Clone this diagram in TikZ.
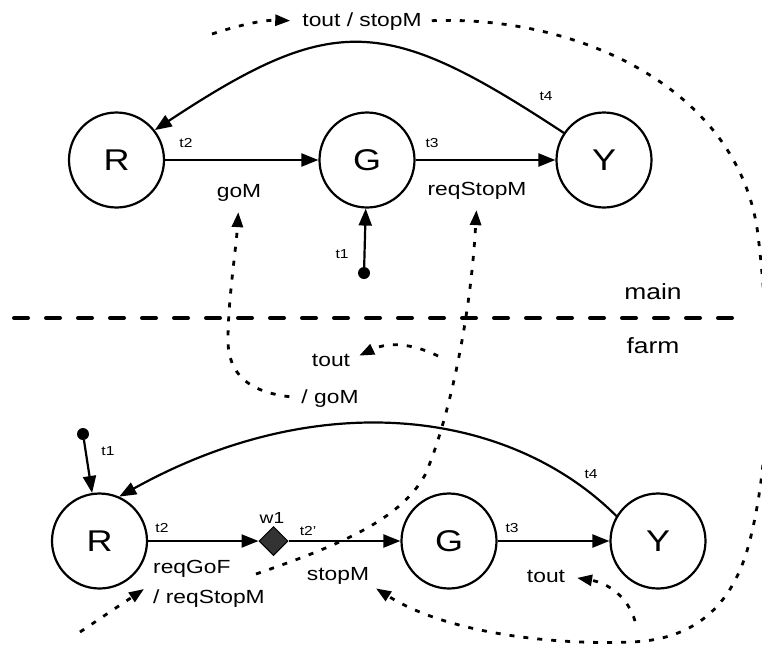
\documentclass[tikz,border=0pt]{standalone}
\usepackage{fontspec}
\setmainfont[FakeStretch=1.2]{Liberation Sans}
\usetikzlibrary{arrows.meta,shapes.geometric}
\tikzset{
  state/.style={circle,draw,line width=2.2pt,minimum size=95pt,inner sep=0pt,font=\fontsize{30}{36}\selectfont},
  initdot/.style={circle,fill,minimum size=12pt,inner sep=0pt},
  waitbox/.style={diamond,draw,fill=black!80,line width=1pt,minimum width=29pt,minimum height=29pt,inner sep=0pt,aspect=1},
  trans/.style={line width=2.2pt,-{Triangle[length=17pt,width=13pt]}},
  signal/.style={line width=2.8pt,dash pattern=on 5pt off 9pt,-{Triangle[length=15pt,width=11pt]}},
  sigline/.style={line width=2.8pt,dash pattern=on 5pt off 9pt},
  separator/.style={line width=4pt,line cap=round,dash pattern=on 14pt off 18pt},
  tlabel/.style={anchor=base,inner sep=0pt,font=\fontsize{13}{15}\selectfont},
  wlabel/.style={anchor=base,inner sep=0pt,font=\fontsize{16}{18}\selectfont},
  evlabel/.style={anchor=base,inner sep=0pt,font=\fontsize{19}{22}\selectfont},
  region/.style={anchor=base,inner sep=0pt,font=\fontsize{22}{26}\selectfont},
}
\begin{document}
\begin{tikzpicture}[x=1pt,y=-1pt]
\useasboundingbox (0,0) rectangle (762,651);
\fill[white] (0,0) rectangle (762,651);
\clip (0,0) rectangle (762,651);

% ---------- main machine ----------
\node[state] (mR) at (116.5,160) {R};
\node[state] (mG) at (367,160) {G};
\node[state] (mY) at (604,160) {Y};
\node[initdot] (mI) at (364,273) {};

\draw[trans] (mI) -- (mG);
\draw[trans] (mR) -- (mG);
\draw[trans] (mG) -- (mY);
\draw[trans] (mY.146) .. controls (386,16) and (335,11) .. (mR.38);

\node[tlabel] (mt1) at (342,258) {t1};
\node[tlabel] (mt2) at (186,147) {t2};
\node[tlabel] (mt3) at (432,147) {t3};
\node[tlabel] (mt4) at (546,100) {t4};
\node[evlabel] (mgo) at (239,197) {goM};
\node[evlabel] (mreq) at (477,195) {reqStopM};
\node[evlabel] (mts) at (362,26) {tout / stopM};

% ---------- separator ----------
\coordinate (sepL) at (14,318);
\coordinate (sepR) at (732,318);
\draw[separator] (sepL) -- (sepR);
\node[region] (lmain) at (653,299) {main};
\node[region] (lfarm) at (653,353) {farm};

% ---------- farm machine ----------
\node[state] (fR) at (99.5,541) {R};
\node[waitbox] (fW) at (273.5,541) {};
\node[state] (fG) at (449,541) {G};
\node[state] (fY) at (658,541) {Y};
\node[initdot] (fI) at (83,434) {};

\draw[trans] (fI) -- (fR);
\draw[trans] (fR) -- (fW);
\draw[trans] (fW) -- (fG);
\draw[trans] (fG) -- (fY);
\draw[trans] (fY.149) .. controls (510,410) and (320,385) .. (fR.66);

\node[tlabel] (ft1) at (108,455) {t1};
\node[tlabel] (ft2) at (162,532) {t2};
\node[wlabel] (fw1) at (272,523) {w1};
\node[tlabel] (ft2p) at (308,535) {t2\char"0027};
\node[tlabel] (ft3) at (512,532) {t3};
\node[tlabel] (ft4) at (591,478) {t4};
\node[evlabel,anchor=base west] (freq) at (153,573) {reqGoF};
\node[evlabel,anchor=base west] (frsm) at (153,603) {/ reqStopM};
\node[evlabel] (fstop) at (338,580) {stopM};
\node[evlabel] (ftout) at (546,582) {tout};

% ---------- signals between the machines ----------
\node[evlabel] (xtout) at (331,366) {tout};
\node[evlabel] (xgo) at (330,403) {/ goM};

\coordinate (s0) at (212,34);
\draw[signal,shorten >=12pt] (s0) to[bend left=10] (mts.west);
\draw[sigline,shorten <=10pt,-{Triangle[length=15pt,width=11pt]},shorten >=8pt]
  (mts.east) .. controls (580,15) and (740,90) .. (758,235)
  .. controls (768,320) and (775,440) .. (750,540)
  .. controls (735,600) and (700,640) .. (630,642)
  .. controls (560,645) and (450,635) .. (fstop.south east);

\draw[signal,shorten <=12pt,shorten >=11pt]
  (xgo.west) .. controls (250,392) and (228,375) .. (228,340)
  .. controls (228,300) and (236,250) .. (mgo.south);

\coordinate (t0) at (438,356);
\draw[signal,shorten >=10pt] (t0) .. controls (418,346) and (392,340) .. (xtout.east);

\coordinate (r0) at (256,574);
\draw[signal,shorten >=11pt]
  (r0) .. controls (340,545) and (400,520) .. (425,475)
  .. controls (445,430) and (470,330) .. (mreq.south);

\coordinate (b0) at (80,632);
\draw[signal] (b0) -- ([xshift=-9pt,yshift=0pt]frsm.north west);

\coordinate (u0) at (635,621);
\draw[signal,shorten >=12pt] (u0) .. controls (628,597) and (608,583) .. (ftout.east);
\end{tikzpicture}
\end{document}
